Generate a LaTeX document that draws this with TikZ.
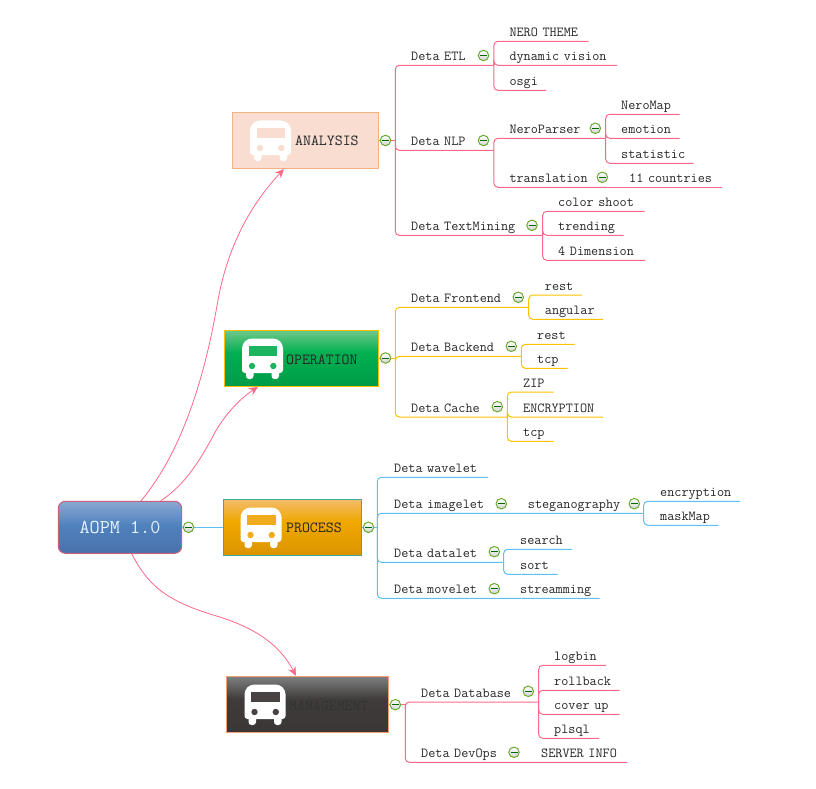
\documentclass[tikz,border=0pt]{standalone}
\usepackage{fontspec}
\usetikzlibrary{arrows.meta}

\definecolor{pinkLine}{RGB}{255, 104, 136}
\definecolor{goldLine}{RGB}{255, 192, 0}
\definecolor{blueLine}{RGB}{92, 192, 245}
\definecolor{minusGreen}{RGB}{106, 171, 46}
\definecolor{aopmEdge}{RGB}{200, 96, 122}
\definecolor{aopmText}{RGB}{232, 244, 255}
\definecolor{analysisEdge}{RGB}{244, 177, 131}
\definecolor{analysisFill}{RGB}{248, 221, 208}
\definecolor{operationGlass}{RGB}{28, 180, 95}
\definecolor{processEdge}{RGB}{63, 169, 160}
\definecolor{processGlass}{RGB}{241, 172, 30}
\definecolor{managementEdge}{RGB}{244, 160, 112}
\definecolor{managementGlass}{RGB}{72, 66, 66}

% 25bp to 75bp of each shading covers the height of its box
\pgfdeclareverticalshading{aopmShade}{100bp}{rgb(0bp)=(0.29,0.447,0.675); rgb(25bp)=(0.29,0.447,0.675);
    rgb(52bp)=(0.31,0.506,0.741); rgb(75bp)=(0.549,0.659,0.831); rgb(100bp)=(0.549,0.659,0.831)}
\pgfdeclareverticalshading{operationShade}{100bp}{rgb(0bp)=(0,0.612,0.282); rgb(25bp)=(0,0.612,0.282);
    rgb(55bp)=(0,0.69,0.314); rgb(75bp)=(0.439,0.78,0.541); rgb(100bp)=(0.439,0.78,0.541)}
\pgfdeclareverticalshading{processShade}{100bp}{rgb(0bp)=(0.859,0.58,0); rgb(25bp)=(0.859,0.58,0);
    rgb(55bp)=(0.941,0.659,0); rgb(75bp)=(0.957,0.737,0.424); rgb(100bp)=(0.957,0.737,0.424)}
\pgfdeclareverticalshading{managementShade}{100bp}{rgb(0bp)=(0.227,0.212,0.212); rgb(25bp)=(0.227,0.212,0.212);
    rgb(55bp)=(0.251,0.235,0.235); rgb(75bp)=(0.498,0.498,0.498); rgb(100bp)=(0.498,0.498,0.498)}

\tikzset{
    topic/.style={text width=#1, align=left, anchor=south west, inner xsep=0pt, inner ysep=1.5pt,
        text height=9pt, text depth=3pt, text=black!85,
        font=\ttfamily\fontsize{13.8}{14}\selectfont},
    catbox/.style={minimum width=#1, minimum height=56pt, inner sep=0pt, line width=1pt},
    catlabel/.style={anchor=west, inner sep=0pt, text=black!85,
        font=\ttfamily\fontsize{15.4}{16}\selectfont},
    collapse/.style={circle, draw=minusGreen, line width=1pt, minimum size=10.5pt, inner sep=0pt,
        top color=white, bottom color=gray!35,
        path picture={\draw[green!40!black, line width=1pt]
            ([xshift=-3.5pt]path picture bounding box.center) -- ([xshift=3.5pt]path picture bounding box.center);}},
    pinkway/.style={pinkLine, line width=1pt, rounded corners=4pt},
    goldway/.style={goldLine, line width=1pt, rounded corners=4pt},
    blueway/.style={blueLine, line width=1pt, rounded corners=4pt},
    link/.style={pinkLine, line width=0.8pt, -{Stealth[length=9pt, width=8pt]}},
    pics/busicon/.style={code={
        \fill[white] (0,20) [rounded corners=10pt] -- (0,0.5) -- (41,0.5) -- (41,20) [rounded corners=3pt] -- (41,35) -- (0,35) -- cycle;
        \fill[white, rounded corners=3pt] (4,30) rectangle (11.5,41);
        \fill[white, rounded corners=3pt] (29.5,30) rectangle (37,41);
        \fill[#1] (6.7,8) rectangle (35.3,18.3);
        \fill[#1] (10,28) circle (3.2);
        \fill[#1] (31.3,28) circle (3.2);
    }},
}

\begin{document}
\begin{tikzpicture}[x=1pt, y=-1pt]
    \useasboundingbox (0,0) rectangle (816,789);

    % --- CENTRE ---
    \node[draw=aopmEdge, line width=1pt, rounded corners=7pt,
        minimum width=123.4pt, minimum height=52pt, inner sep=0pt, shading=aopmShade,
        text=aopmText, font=\ttfamily\fontsize{19.6}{20}\selectfont]
        (aopm) at (120,527.3) {AOPM 1.0};

    % --- CATEGORIES ---
    \node[catbox=146.4pt, draw=analysisEdge, fill=analysisFill] (analysis) at (305.5,140.5) {};
    \node[catbox=154pt, draw=goldLine, shading=operationShade] (operation) at (301.3,358.3) {};
    \node[catbox=138pt, draw=processEdge, shading=processShade] (process) at (292.3,527.3) {};
    \node[catbox=162.4pt, draw=managementEdge, shading=managementShade] (management) at (307.5,704.3) {};

    \pic at (250,120) {busicon=analysisFill};
    \pic at (242,338) {busicon=operationGlass};
    \pic at (240.5,507) {busicon=processGlass};
    \pic at (244.5,684) {busicon=managementGlass};

    \node[catlabel] (analysislabel) at (295,141) {ANALYSIS};
    \node[catlabel] (operationlabel) at (286,359.5) {OPERATION};
    \node[catlabel] (processlabel) at (286,528) {PROCESS};
    \node[catlabel, text=black!80] (managementlabel) at (289,705.5) {MANAGEMENT};

    % --- ANALYSIS TOPICS ---
    \node[topic=82.5pt] (etl) at (411,65.3) {Deta ETL};
    \node[topic=82.5pt] (nlp) at (411,150.3) {Deta NLP};
    \node[topic=131.3pt] (textmining) at (411,235.3) {Deta TextMining};
    \node[topic=79pt] (nerotheme) at (509.3,41.3) {NERO THEME};
    \node[topic=107.4pt] (dynamic) at (509.3,65.3) {dynamic vision};
    \node[topic=36.7pt] (osgi) at (509.3,90.3) {osgi};
    \node[topic=96pt] (neroparser) at (509.3,138.3) {NeroParser};
    \node[topic=98pt] (translation) at (509.3,187.3) {translation};
    \node[topic=92.3pt] (countries) at (629,187.3) {11 countries};
    \node[topic=58.3pt] (neromap) at (621,114.3) {NeroMap};
    \node[topic=58.3pt] (emotion) at (621,138.3) {emotion};
    \node[topic=72.3pt] (statistic) at (621,163.3) {statistic};
    \node[topic=86.3pt] (colorshoot) at (558,211.3) {color shoot};
    \node[topic=65.3pt] (trending) at (558,235.3) {trending};
    \node[topic=87pt] (dimension) at (558,260.3) {4 Dimension};

    \coordinate (analysisfork) at (395.3,140.5);
    \draw[pinkway] (analysis.east) -- (analysisfork);
    \foreach \leaf in {etl,nlp,textmining} \draw[pinkway] (analysisfork) |- (\leaf.south east);
    \foreach \leaf in {nerotheme,dynamic,osgi} \draw[pinkway] (etl.south east) |- (\leaf.south east);
    \foreach \leaf in {neroparser,translation} \draw[pinkway] (nlp.south east) |- (\leaf.south east);
    \draw[pinkway] (translation.south east) -- (countries.south east);
    \foreach \leaf in {neromap,emotion,statistic} \draw[pinkway] (neroparser.south east) |- (\leaf.south east);
    \foreach \leaf in {colorshoot,trending,dimension} \draw[pinkway] (textmining.south east) |- (\leaf.south east);

    % --- OPERATION TOPICS ---
    \node[topic=117.3pt] (frontend) at (411,307.3) {Deta Frontend};
    \node[topic=110pt] (backend) at (411,356.3) {Deta Backend};
    \node[topic=96pt] (cache) at (411,417) {Deta Cache};
    \node[topic=37pt] (frontrest) at (544.7,295) {rest};
    \node[topic=58pt] (angular) at (544.7,319.3) {angular};
    \node[topic=37.3pt] (backrest) at (537,344.3) {rest};
    \node[topic=30.3pt] (backtcp) at (537,368.3) {tcp};
    \node[topic=30.3pt] (zip) at (523,392) {ZIP};
    \node[topic=79.7pt] (encryptionbox) at (523,417) {ENCRYPTION};
    \node[topic=30.3pt] (cachetcp) at (523,441.3) {tcp};

    \coordinate (operationfork) at (395.3,358.3);
    \draw[goldway] (operation.east) -- (operationfork);
    \foreach \leaf in {frontend,backend,cache} \draw[goldway] (operationfork) |- (\leaf.south east);
    \foreach \leaf in {frontrest,angular} \draw[goldway] (frontend.south east) |- (\leaf.south east);
    \foreach \leaf in {backrest,backtcp} \draw[goldway] (backend.south east) |- (\leaf.south east);
    \foreach \leaf in {zip,encryptionbox,cachetcp} \draw[goldway] (cache.south east) |- (\leaf.south east);

    % --- PROCESS TOPICS ---
    \node[topic=93.7pt] (wavelet) at (394,477.3) {Deta wavelet};
    \node[topic=120pt] (imagelet) at (394,513.3) {Deta imagelet};
    \node[topic=115.6pt] (steganography) at (527.7,513.3) {steganography};
    \node[topic=109.3pt] (datalet) at (394,562.3) {Deta datalet};
    \node[topic=116pt] (movelet) at (394,598.3) {Deta movelet};
    \node[topic=79.3pt] (streamming) at (520,598.3) {streamming};
    \node[topic=79.7pt] (encryption) at (660,501.3) {encryption};
    \node[topic=58.3pt] (maskmap) at (660,525.3) {maskMap};
    \node[topic=51.7pt] (search) at (520,549.3) {search};
    \node[topic=37.3pt] (sort) at (520,574.3) {sort};

    \coordinate (processfork) at (377.3,527.3);
    \draw[blueway] (process.east) -- (processfork);
    \draw[blueLine, line width=1pt] (aopm.east) -- (process.west);
    \foreach \leaf in {wavelet,steganography,datalet,streamming} \draw[blueway] (processfork) |- (\leaf.south east);
    \foreach \leaf in {encryption,maskmap} \draw[blueway] (steganography.south east) |- (\leaf.south east);
    \foreach \leaf in {search,sort} \draw[blueway] (datalet.south east) |- (\leaf.south east);

    % --- MANAGEMENT TOPICS ---
    \node[topic=117.3pt] (database) at (421,702) {Deta Database};
    \node[topic=110pt] (devops) at (421,762.3) {Deta DevOps};
    \node[topic=85.7pt] (serverinfo) at (541,762.3) {SERVER INFO};
    \node[topic=51.7pt] (logbin) at (554,665.3) {logbin};
    \node[topic=65.3pt] (rollback) at (554,690.3) {rollback};
    \node[topic=65.3pt] (coverup) at (554,714.3) {cover up};
    \node[topic=44.7pt] (plsql) at (554,738.3) {plsql};

    \coordinate (managementfork) at (405.3,704.3);
    \draw[pinkway] (management.east) -- (managementfork);
    \foreach \leaf in {database,serverinfo} \draw[pinkway] (managementfork) |- (\leaf.south east);
    \foreach \leaf in {logbin,rollback,coverup,plsql} \draw[pinkway] (database.south east) |- (\leaf.south east);

    % --- CURVED LINKS ---
    \draw[link] ([xshift=21pt]aopm.north) .. controls (186,447) and (207,365) .. (218,300)
        .. controls (229,240) and (255,200) .. ([xshift=-21.5pt]analysis.south);
    \draw[link] ([xshift=40.7pt]aopm.north) .. controls (185,485) and (200,460) .. (212,438)
        .. controls (222,418) and (238,400) .. ([xshift=-43.3pt]operation.south);
    \draw[link] ([xshift=11.7pt]aopm.south) .. controls (148,585) and (165,600) .. (213,615)
        .. controls (255,627) and (280,645) .. ([xshift=-11.5pt]management.north);

    % --- COLLAPSE BUTTONS ---
    \node[collapse] (aopmminus) at (188.5,527.3) {};
    \node[collapse] (analysisminus) at (385.5,140.5) {};
    \node[collapse] (etlminus) at (483.5,55.5) {};
    \node[collapse] (nlpminus) at (483.5,140.5) {};
    \node[collapse] (parserminus) at (595.3,128.3) {};
    \node[collapse] (translationminus) at (602.3,177.3) {};
    \node[collapse] (textminingminus) at (532,225.3) {};
    \node[collapse] (operationminus) at (385.5,358) {};
    \node[collapse] (frontendminus) at (518.3,297.3) {};
    \node[collapse] (backendminus) at (511.3,346.3) {};
    \node[collapse] (cacheminus) at (497.3,406.7) {};
    \node[collapse] (processminus) at (368.5,527.3) {};
    \node[collapse] (imageletminus) at (501.3,503.7) {};
    \node[collapse] (stegominus) at (634.3,503.7) {};
    \node[collapse] (dataletminus) at (494.3,551.7) {};
    \node[collapse] (moveletminus) at (494.3,588.7) {};
    \node[collapse] (managementminus) at (395.3,704.7) {};
    \node[collapse] (databaseminus) at (528.3,691.3) {};
    \node[collapse] (devopsminus) at (514,752.3) {};
\end{tikzpicture}
\end{document}
